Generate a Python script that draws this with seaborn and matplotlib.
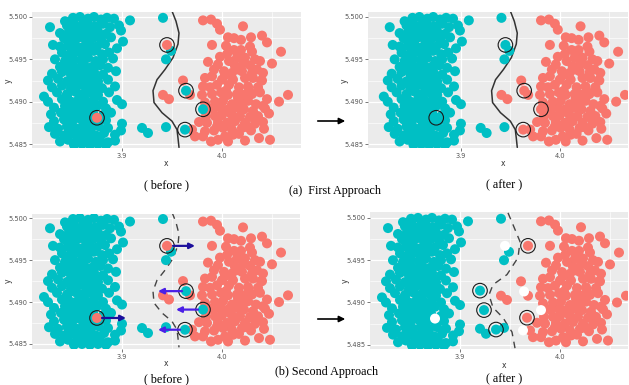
import numpy as np
import pandas as pd
import matplotlib
matplotlib.use("Agg")
import matplotlib.pyplot as plt
import seaborn as sns

# colores de ggplot
CYAN = "#00BFC4"
ROJO = "#F8766D"

# puntos de la clase cyan
cyan_x = [3.843, 3.851, 3.858, 3.866, 3.872, 3.879, 3.885, 3.892, 3.908,
          3.828, 3.845, 3.852, 3.859, 3.866, 3.873, 3.881, 3.888, 3.897,
          3.838, 3.847, 3.854, 3.861, 3.869, 3.876, 3.884, 3.899,
          3.842, 3.850, 3.857, 3.864, 3.871, 3.879, 3.889, 3.901,
          3.831, 3.838, 3.846, 3.853, 3.860, 3.868, 3.875, 3.883, 3.895,
          3.840, 3.848, 3.856, 3.864, 3.872, 3.880, 3.887,
          3.833, 3.843, 3.851, 3.859, 3.866, 3.874, 3.891, 3.881,
          3.838, 3.846, 3.854, 3.862, 3.870, 3.878, 3.886,
          3.830, 3.840, 3.849, 3.857, 3.865, 3.872, 3.881, 3.894,
          3.826, 3.836, 3.845, 3.853, 3.861, 3.868, 3.876, 3.886,
          3.830, 3.840, 3.849, 3.857, 3.864, 3.872, 3.880, 3.893,
          3.822, 3.835, 3.845, 3.853, 3.860, 3.868, 3.876, 3.887,
          3.826, 3.840, 3.849, 3.857, 3.864, 3.872, 3.881, 3.895,
          3.832, 3.843, 3.851, 3.859, 3.867, 3.875, 3.884, 3.900,
          3.829, 3.839, 3.847, 3.855, 3.863, 3.871, 3.881, 3.889,
          3.832, 3.842, 3.850, 3.858, 3.866, 3.884, 3.900, 3.875,
          3.827, 3.836, 3.845, 3.853, 3.861, 3.869, 3.877, 3.886, 3.899,
          3.833, 3.842, 3.850, 3.858, 3.866, 3.874, 3.882, 3.893,
          3.838, 3.846, 3.854, 3.862, 3.870, 3.878, 3.886, 3.893,
          3.852, 3.860, 3.868, 3.876, 3.884,
          3.862, 3.855, 3.870, 3.846, 3.861, 3.876, 3.853, 3.868, 3.845, 3.862,
          3.878, 3.850, 3.866, 3.845, 3.857, 3.872, 3.849, 3.866, 3.853, 3.872,
          3.845, 3.861, 3.853, 3.870, 3.845, 3.862, 3.852, 3.868, 3.847, 3.862,
          3.870, 3.855,
          3.941, 3.949, 3.944, 3.920, 3.926, 3.944]
cyan_y = [5.4995, 5.4999, 5.5000, 5.4998, 5.5000, 5.4997, 5.4999, 5.4998, 5.4996,
          5.4988, 5.4990, 5.4992, 5.4989, 5.4991, 5.4989, 5.4992, 5.4988, 5.4990,
          5.4981, 5.4983, 5.4980, 5.4984, 5.4981, 5.4983, 5.4980, 5.4984,
          5.4975, 5.4973, 5.4976, 5.4972, 5.4975, 5.4973, 5.4976, 5.4971,
          5.4967, 5.4965, 5.4966, 5.4968, 5.4964, 5.4967, 5.4965, 5.4968, 5.4963,
          5.4958, 5.4956, 5.4959, 5.4957, 5.4960, 5.4956, 5.4958,
          5.4950, 5.4948, 5.4951, 5.4949, 5.4952, 5.4948, 5.4951, 5.4950,
          5.4941, 5.4943, 5.4940, 5.4944, 5.4941, 5.4943, 5.4940,
          5.4933, 5.4935, 5.4932, 5.4936, 5.4933, 5.4935, 5.4932, 5.4936,
          5.4925, 5.4927, 5.4924, 5.4928, 5.4925, 5.4927, 5.4924, 5.4926,
          5.4917, 5.4919, 5.4916, 5.4920, 5.4917, 5.4919, 5.4916, 5.4918,
          5.4906, 5.4911, 5.4909, 5.4912, 5.4909, 5.4911, 5.4908, 5.4911,
          5.4900, 5.4903, 5.4900, 5.4904, 5.4901, 5.4903, 5.4900, 5.4902,
          5.4893, 5.4895, 5.4892, 5.4896, 5.4893, 5.4895, 5.4892, 5.4897,
          5.4885, 5.4887, 5.4884, 5.4888, 5.4885, 5.4887, 5.4884, 5.4887,
          5.4877, 5.4879, 5.4876, 5.4880, 5.4877, 5.4878, 5.4874, 5.4875,
          5.4870, 5.4868, 5.4871, 5.4869, 5.4872, 5.4868, 5.4871, 5.4869, 5.4866,
          5.4862, 5.4860, 5.4863, 5.4861, 5.4864, 5.4860, 5.4863, 5.4861,
          5.4853, 5.4855, 5.4852, 5.4856, 5.4853, 5.4855, 5.4852, 5.4854,
          5.4849, 5.4850, 5.4849, 5.4850, 5.4849,
          5.4995, 5.4986, 5.4986, 5.4978, 5.4978, 5.4979, 5.4962, 5.4961, 5.4954, 5.4954,
          5.4946, 5.4946, 5.4938, 5.4938, 5.4930, 5.4930, 5.4922, 5.4922, 5.4914, 5.4914,
          5.4906, 5.4906, 5.4898, 5.4898, 5.4890, 5.4890, 5.4882, 5.4882, 5.4866, 5.4866,
          5.4858, 5.4858,
          5.4999, 5.4960, 5.4950, 5.4869, 5.4863, 5.4870]

# puntos de la clase roja
rojo_x = [3.981, 3.989, 3.995, 3.998, 4.021, 4.006, 4.012, 4.019, 4.029, 4.040,
          4.045, 3.990, 4.012, 4.019, 4.030, 4.059, 3.998, 4.005, 4.015, 4.023,
          4.033, 3.986, 3.996, 4.007, 4.013, 4.021, 4.028, 4.038, 3.992, 4.002,
          4.010, 4.020, 4.030, 4.041, 3.983, 3.990, 4.000, 4.011, 4.023, 4.031,
          4.039, 3.961, 3.981, 3.988, 3.995, 4.007, 4.017, 4.026, 4.036, 3.968,
          3.980, 3.990, 3.999, 4.006, 4.015, 4.021, 4.030, 4.038, 4.066, 3.941,
          3.947, 3.983, 3.993, 4.001, 4.010, 4.018, 4.026, 4.034, 4.041, 4.057,
          3.991, 3.999, 4.006, 4.015, 4.022, 4.031, 4.043, 4.047, 3.984, 3.993,
          4.000, 4.010, 4.018, 4.028, 4.036, 3.985, 3.996, 4.005, 4.013, 4.023,
          4.033, 4.041, 3.970, 3.983, 3.992, 4.001, 4.010, 4.020, 4.029, 3.973,
          3.981, 3.989, 4.003, 4.011, 4.006, 4.023, 4.037, 4.048, 3.996,
          4.004, 4.016, 4.027, 4.008, 4.020, 4.012, 4.025, 3.995, 4.017, 4.003,
          4.016, 4.035, 4.028, 4.004, 4.040, 4.045, 4.050, 4.042, 3.986, 3.977]
rojo_y = [5.4996, 5.4997, 5.4992, 5.4985, 5.4989, 5.4976, 5.4975, 5.4973, 5.4976, 5.4978,
          5.4970, 5.4967, 5.4961, 5.4961, 5.4959, 5.4959, 5.4953, 5.4956, 5.4952, 5.4952,
          5.4950, 5.4947, 5.4944, 5.4948, 5.4942, 5.4945, 5.4943, 5.4948, 5.4938, 5.4936,
          5.4934, 5.4936, 5.4934, 5.4934, 5.4928, 5.4930, 5.4926, 5.4926, 5.4928, 5.4928,
          5.4925, 5.4925, 5.4918, 5.4917, 5.4920, 5.4920, 5.4917, 5.4918, 5.4917, 5.4908,
          5.4908, 5.4909, 5.4911, 5.4908, 5.4909, 5.4908, 5.4909, 5.4911, 5.4908, 5.4908,
          5.4903, 5.4899, 5.4900, 5.4901, 5.4897, 5.4899, 5.4901, 5.4897, 5.4895, 5.4900,
          5.4891, 5.4892, 5.4891, 5.4893, 5.4891, 5.4889, 5.4892, 5.4886, 5.4883, 5.4883,
          5.4884, 5.4884, 5.4883, 5.4882, 5.4883, 5.4875, 5.4876, 5.4875, 5.4877, 5.4875,
          5.4874, 5.4876, 5.4867, 5.4865, 5.4866, 5.4869, 5.4867, 5.4869, 5.4866, 5.4859,
          5.4859, 5.4853, 5.4859, 5.4861, 5.4853, 5.4854, 5.4857, 5.4855, 5.4855,
          5.4913, 5.4904, 5.4913, 5.4887, 5.4896, 5.4878, 5.4870, 5.4871, 5.4862, 5.4931,
          5.4938, 5.4938, 5.4965, 5.4966, 5.4925, 5.4903, 5.4945, 5.4868, 5.4893, 5.4876]

# puntos resaltados (con circulo)
marca_x = [3.945, 3.964, 3.981, 3.963, 3.875]
marca_y = [5.4967, 5.4913, 5.4891, 5.4867, 5.4881]
marca_antes = ["rojo", "cyan", "cyan", "cyan", "rojo"]
marca_despues = ["cyan", "rojo", "rojo", "rojo", "cyan"]
# posiciones nuevas en el segundo enfoque
marca_x2 = [3.968, 3.920, 3.924, 3.936, 3.967]
marca_y2 = [5.4967, 5.4914, 5.4891, 5.4868, 5.4882]

# flechas del segundo enfoque (inicio y fin en x)
flecha_x0 = [3.951, 3.960, 3.976, 3.958, 3.880]
flecha_x1 = [3.973, 3.936, 3.954, 3.936, 3.904]

# frontera de decision
frontera_x = [3.950, 3.954, 3.957, 3.956, 3.951, 3.943, 3.935, 3.931, 3.932,
              3.940, 3.950, 3.955, 3.956, 3.957]
frontera_y = [5.5007, 5.4995, 5.4981, 5.4968, 5.4952, 5.4938, 5.4926, 5.4913,
              5.4899, 5.4887, 5.4877, 5.4867, 5.4857, 5.4846]
frontera2_x = [3.948, 3.953, 3.960, 3.958, 3.947, 3.933, 3.929, 3.933, 3.943,
               3.952, 3.955]
frontera2_y = [5.5006, 5.4992, 5.4972, 5.4953, 5.4933, 5.4921, 5.4909, 5.4894,
               5.4882, 5.4865, 5.4846]

W, H = 629, 385
sns.set_theme(style="darkgrid", rc={"axes.facecolor": "#EBEBEB",
                                    "grid.color": "white"})
plt.rcParams["font.family"] = ["DejaVu Sans"]
fig = plt.figure(figsize=(W / 100, H / 100), dpi=100)
fig.patch.set_facecolor("white")


def ejes(izq, der, arriba, abajo):
    # crea un eje con coordenadas en pixeles
    return fig.add_axes([izq / W, 1 - abajo / H, (der - izq) / W, (abajo - arriba) / H])


def base(ax, xlim, ylim):
    ax.set_xlim(*xlim)
    ax.set_ylim(*ylim)
    ax.set_xticks([3.9, 4.0])
    ax.set_xticklabels(["3.9", "4.0"])
    ax.set_yticks([5.485, 5.490, 5.495, 5.500])
    ax.set_yticklabels(["5.485", "5.490", "5.495", "5.500"])
    ax.set_xticks([3.85, 3.95, 4.05], minor=True)
    ax.set_yticks([5.4875, 5.4925, 5.4975], minor=True)
    ax.grid(True, which="major", color="white", lw=0.9)
    ax.grid(True, which="minor", color="white", lw=0.45)
    ax.tick_params(which="major", length=2, width=0.5, color="#444444",
                   labelsize=4.8, labelcolor="#555555", pad=1.5)
    ax.tick_params(which="minor", length=0)
    ax.tick_params(axis="x", which="major", bottom=True)
    ax.tick_params(axis="y", which="major", left=True)
    for s in ax.spines.values():
        s.set_visible(False)
    ax.set_xlabel("")
    ax.set_ylabel("")
    ax.set_axisbelow(True)


def puntos(ax, x, y, clase):
    df = pd.DataFrame({"x": x, "y": y, "clase": clase})
    sns.scatterplot(data=df, x="x", y="y", hue="clase",
                    palette={"cyan": CYAN, "rojo": ROJO, "blanco": "white"},
                    s=52, linewidth=0, legend=False, ax=ax, zorder=3)


fondo_x = cyan_x + rojo_x
fondo_y = cyan_y + rojo_y
fondo_c = ["cyan"] * len(cyan_x) + ["rojo"] * len(rojo_x)

paneles = [
    ("a_antes", (32, 301, 12, 148), (3.81, 4.079), (5.48453, 5.50059)),
    ("a_despues", (368, 628, 12, 148), (3.806, 4.069), (5.48453, 5.50059)),
    ("b_antes", (32, 300, 214, 349), (3.81, 4.078), (5.4844, 5.5005)),
    ("b_despues", (370, 628, 212, 349), (3.81, 4.068), (5.4845, 5.5007)),
]

for nombre, caja, xlim, ylim in paneles:
    ax = ejes(*caja)
    if nombre == "b_despues":
        # los puntos movidos dejan un hueco blanco
        puntos(ax, fondo_x + marca_x + marca_x2, fondo_y + marca_y + marca_y2,
               fondo_c + ["blanco"] * 5 + marca_antes)
        cx, cy = marca_x2, marca_y2
    elif nombre == "a_despues":
        puntos(ax, fondo_x + marca_x, fondo_y + marca_y, fondo_c + marca_despues)
        cx, cy = marca_x, marca_y
    else:
        puntos(ax, fondo_x + marca_x, fondo_y + marca_y, fondo_c + marca_antes)
        cx, cy = marca_x, marca_y
    ax.scatter(cx, cy, s=110, facecolors="none", edgecolors="#1a1a1a",
               linewidths=0.8, zorder=4)

    if nombre.startswith("a"):
        ax.plot(frontera_x, frontera_y, color="#333333", lw=1.1, zorder=2)
    elif nombre == "b_antes":
        ax.plot(frontera_x, frontera_y, color="#444444", lw=1.0, zorder=2,
                linestyle=(0, (5, 4)))
        for x0, x1, y, c in zip(flecha_x0, flecha_x1, marca_y, marca_antes):
            color = "#1C0F9C" if c == "rojo" else "#4A1FE6"
            ax.annotate("", xy=(x1, y), xytext=(x0, y), zorder=5,
                        arrowprops=dict(arrowstyle="-|>", color=color, lw=1.6,
                                        mutation_scale=8, shrinkA=0, shrinkB=0))
    else:
        ax.plot(frontera2_x, frontera2_y, color="#444444", lw=1.0, zorder=2,
                linestyle=(0, (5, 4)))
    base(ax, xlim, ylim)

# etiquetas de los ejes
for px, py in [(166, 164), (503, 164), (166, 364), (504, 365)]:
    fig.text(px / W, 1 - py / H, "x", fontsize=5.5, color="#333333",
             ha="center", va="center")
for px, py in [(8, 81), (344, 81), (8, 281), (345, 281)]:
    fig.text(px / W, 1 - py / H, "y", fontsize=5.5, color="#333333",
             ha="center", va="center", rotation=90)

# flechas negras entre paneles
for py in [121, 319]:
    fig.add_artist(matplotlib.patches.FancyArrowPatch(
        (315 / W, 1 - py / H), (348 / W, 1 - py / H),
        transform=fig.transFigure, arrowstyle="-|>", mutation_scale=9,
        color="black", lw=1.2))

# textos
serif = ["Liberation Serif", "DejaVu Serif"]
textos = [(167, 185, "( before )"), (504, 185, "( after )"),
          (335, 191, "(a)  First Approach"),
          (167, 379, "( before )"), (504, 379, "( after )"),
          (327, 372, "(b) Second Approach")]
for px, py, t in textos:
    fig.text(px / W, 1 - py / H, t, fontsize=8.7, family=serif,
             ha="center", va="center", color="black")

fig.savefig("out.png", dpi=100, facecolor="white")
